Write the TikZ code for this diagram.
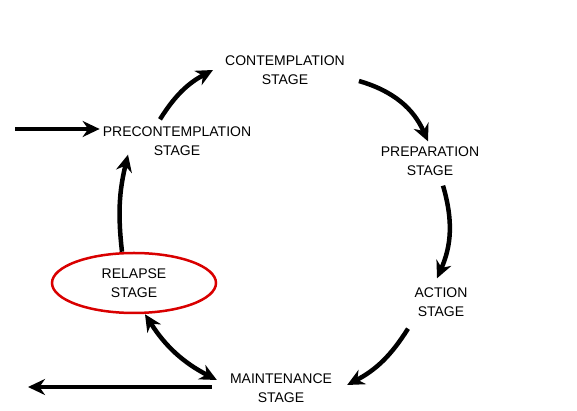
\documentclass[tikz,border=0pt]{standalone}
\usepackage{fontspec}
\setmainfont{Liberation Sans}
\usetikzlibrary{arrows.meta,shapes.geometric}

\begin{document}
\begin{tikzpicture}[
  x=1pt, y=1pt,
  stage/.style={
    align=center, inner sep=3pt,
    font=\fontsize{14}{19}\selectfont
  },
  relapse/.style={
    stage, draw=red!85!black, line width=2.5pt, ellipse,
    minimum width=164pt, minimum height=60pt
  },
  arr/.style={line width=4.5pt, -{Stealth[length=17pt,width=16pt]}},
  dblarr/.style={line width=4.5pt, {Stealth[length=17pt,width=16pt]}-{Stealth[length=17pt,width=16pt]}},
]
\useasboundingbox (0,0) rectangle (577,411);

\node[stage]   (con)   at (285, 341) {CONTEMPLATION\\STAGE};
\node[stage]   (pre)   at (177, 270) {PRECONTEMPLATION\\STAGE};
\node[stage]   (prep)  at (430, 250) {PREPARATION\\STAGE};
\node[stage]   (act)   at (441, 109) {ACTION\\STAGE};
\node[stage]   (maint) at (281,  23) {MAINTENANCE\\STAGE};
\node[relapse] (rel)   at (134, 128) {RELAPSE\\STAGE};

\coordinate (entry) at (15, 282);
\coordinate (exit)  at (28, 24);

\draw[arr] (entry) -- (pre.west |- entry);
\draw[arr] ([xshift=-17pt,yshift=4pt]pre.north) to[bend left=15] ([xshift=-9pt]con.west);
\draw[arr] ([xshift=11pt,yshift=-11pt]con.east) to[bend left=25] ([xshift=-2pt,yshift=2pt]prep.north);
\draw[arr] ([xshift=13pt,yshift=-7pt]prep.south) to[bend left=20] ([xshift=-4pt,yshift=6pt]act.north);
\draw[arr] ([xshift=-33pt,yshift=-9pt]act.south) to[bend left=15] ([xshift=12pt,yshift=3pt]maint.east);
\draw[dblarr] ([xshift=-10pt,yshift=8pt]maint.west) to[bend left=15] ([xshift=11pt]rel.south);
\draw[arr] ([xshift=-12pt]rel.north) to[bend left=10] ([xshift=-49pt,yshift=4pt]pre.south);
\draw[arr, shorten <=15pt] (maint.west |- exit) -- (exit);

\end{tikzpicture}
\end{document}
